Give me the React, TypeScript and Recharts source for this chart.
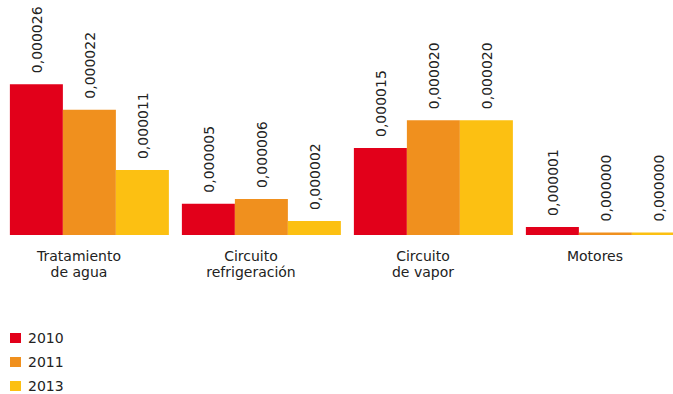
import React from 'react';
import { BarChart, Bar, XAxis, YAxis, Legend, LabelList } from 'recharts';

// Consumption per area, three reporting years
const categories = ['Tratamiento\nde agua', 'Circuito\nrefrigeración', 'Circuito\nde vapor', 'Motores'];
const years = ['2010', '2011', '2013'];
const values2010 = [0.000026, 0.0000054, 0.000015, 0.0000014];
const values2011 = [0.0000216, 0.0000062, 0.0000198, 0.00000045];
const values2013 = [0.0000112, 0.0000024, 0.0000198, 0.00000045];

const colors = ['#e2001a', '#f0901e', '#fcc012'];
const font = '"DejaVu Sans", Verdana, sans-serif';

const data = categories.map((name, i) => ({
  name,
  y2010: values2010[i],
  y2011: values2011[i],
  y2013: values2013[i],
}));

const formatValue = (v: number) => v.toFixed(6).replace('.', ',');

// vertical value label sitting above each bar
const ValueLabel = (props: any) => {
  const { x, y, width, value } = props;
  const cx = x + width / 2 + 1;
  const cy = y - 11;
  return (
    <text
      x={cx}
      y={cy}
      transform={`rotate(-90, ${cx}, ${cy})`}
      textAnchor='start'
      dominantBaseline='central'
      fontSize={14}
      fontFamily={font}
      fill='#222'
    >
      {formatValue(value)}
    </text>
  );
};

const CategoryTick = (props: any) => {
  const { x, y, payload } = props;
  const lines = String(payload.value).split('\n');
  const tx = x - 10;
  return (
    <text x={tx} y={y} textAnchor='middle' fontSize={14} fontFamily={font} fill='#222'>
      {lines.map((line, i) => (
        <tspan key={i} x={tx} dy={i === 0 ? 26 : 16}>
          {line}
        </tspan>
      ))}
    </text>
  );
};

const YearLegend = () => (
  <div style={{ fontFamily: font, fontSize: 14, color: '#222', lineHeight: '16px' }}>
    {years.map((year, i) => (
      <div key={year} style={{ height: 24, display: 'flex', alignItems: 'center' }}>
        <span
          style={{
            display: 'inline-block',
            width: 11,
            height: 10,
            background: colors[i],
            marginRight: 7,
          }}
        />
        {year}
      </div>
    ))}
  </div>
);

export default function App() {
  return (
    <div style={{ position: 'absolute', left: 0, top: 0, width: 673, height: 394, overflow: 'hidden', background: '#fff' }}>
      <BarChart
        width={691}
        height={400}
        data={data}
        margin={{ top: 3, right: 0, bottom: 105, left: 3 }}
        barCategoryGap='4%'
        barGap={0}
      >
        <XAxis
          dataKey='name'
          axisLine={false}
          tickLine={false}
          tickSize={0}
          tickMargin={0}
          height={60}
          interval={0}
          tick={<CategoryTick />}
        />
        <YAxis hide domain={[0, 0.00004]} />
        <Legend
          layout='horizontal'
          align='center'
          verticalAlign='middle'
          wrapperStyle={{ left: 10, top: 326, width: 120 }}
          content={<YearLegend />}
        />
        <Bar dataKey='y2010' fill={colors[0]} isAnimationActive={false}>
          <LabelList dataKey='y2010' content={<ValueLabel />} />
        </Bar>
        <Bar dataKey='y2011' fill={colors[1]} isAnimationActive={false}>
          <LabelList dataKey='y2011' content={<ValueLabel />} />
        </Bar>
        <Bar dataKey='y2013' fill={colors[2]} isAnimationActive={false}>
          <LabelList dataKey='y2013' content={<ValueLabel />} />
        </Bar>
      </BarChart>
    </div>
  );
}
